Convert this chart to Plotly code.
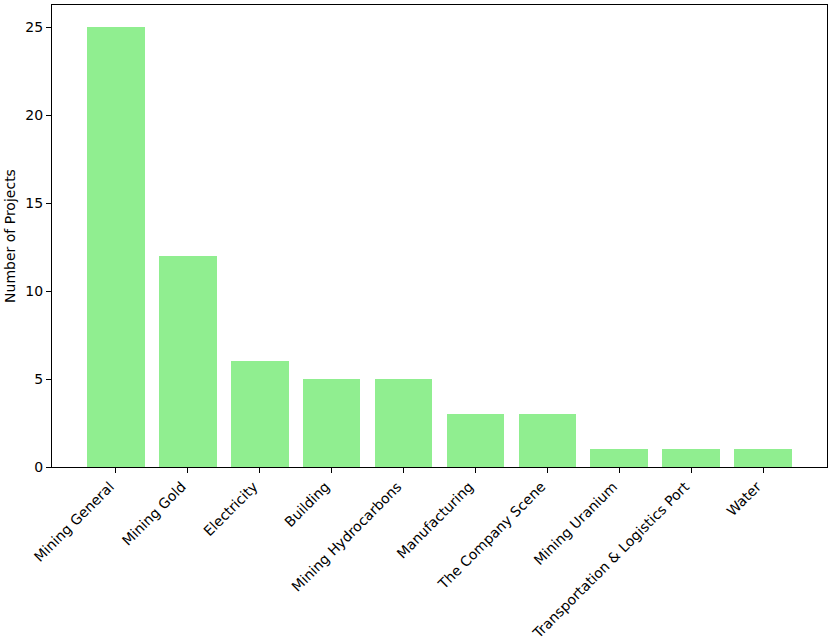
import plotly.graph_objects as go

categories = ["Mining General", "Mining Gold", "Electricity", "Building", "Mining Hydrocarbons",
              "Manufacturing", "The Company Scene", "Mining Uranium",
              "Transportation & Logistics Port", "Water"]
counts = [25, 12, 6, 5, 5, 3, 3, 1, 1, 1]
y_ticks = [0, 5, 10, 15, 20, 25]

fig = go.Figure(go.Bar(
    x=list(range(len(categories))), y=counts, width=0.8,
    marker=dict(color="#90EE90", line=dict(width=0)),
))
font = dict(family="DejaVu Sans", size=14, color="black")
fig.update_layout(
    width=832, height=640, plot_bgcolor="white", paper_bgcolor="white",
    margin=dict(l=52, r=5, t=5, b=173), font=font, showlegend=False,
    bargap=0,
)
fig.update_xaxes(
    range=[-0.89, 9.89], tickmode="array", tickvals=list(range(len(categories))),
    ticktext=categories, tickangle=-45, ticks="outside", ticklen=5, tickwidth=1,
    tickcolor="black", showline=True, linecolor="black", linewidth=1, mirror=True,
    showgrid=False, zeroline=False, tickfont=font, automargin=False,
    ticklabelshift=-6,
)
fig.update_yaxes(
    range=[0, 26.25], tickmode="array", tickvals=y_ticks, ticks="outside", ticklen=5,
    tickwidth=1, tickcolor="black", showline=True, linecolor="black", linewidth=1,
    mirror=True, showgrid=False, zeroline=False, tickfont=font, automargin=False,
    title=dict(text="Number of Projects", font=font, standoff=6),
)
fig.write_html("out.html")
